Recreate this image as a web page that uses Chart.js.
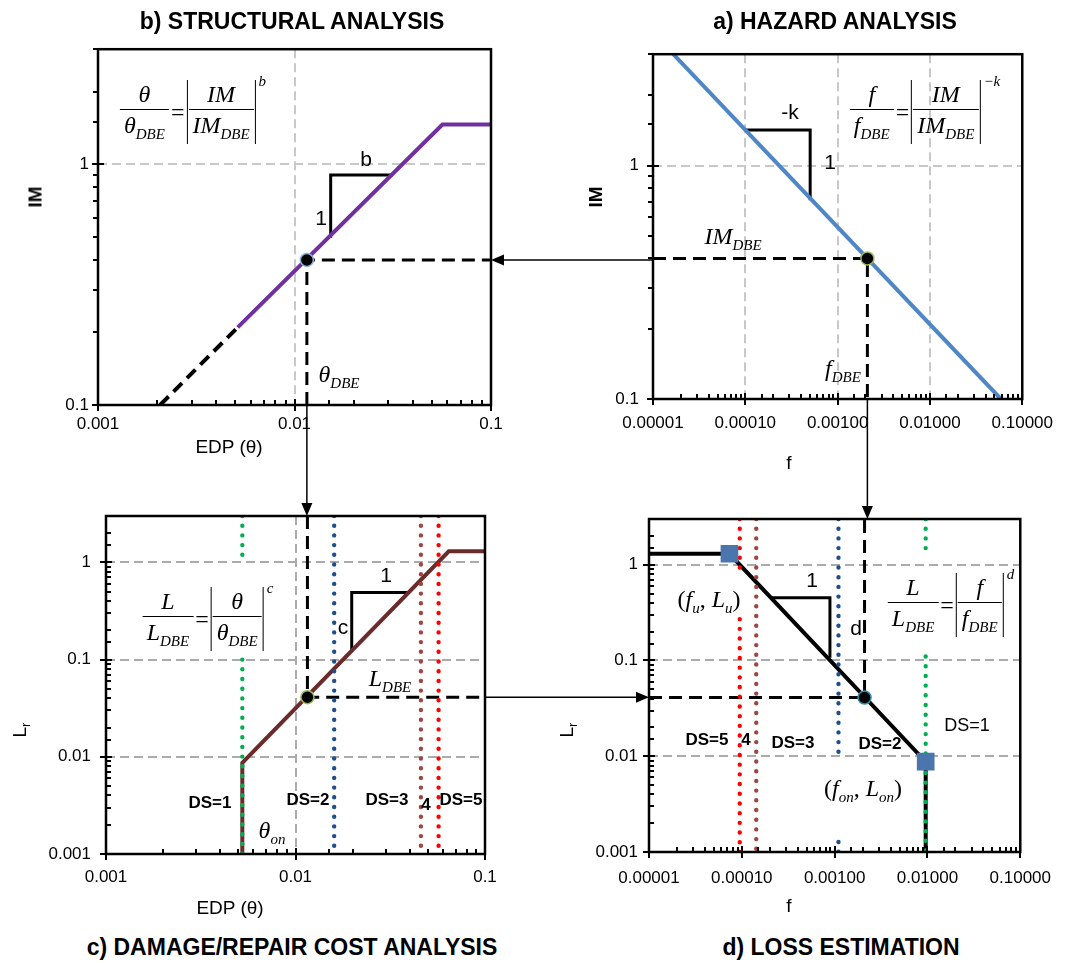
<!DOCTYPE html>
<html>
<head>
<meta charset="utf-8">
<script src="https://cdn.jsdelivr.net/npm/chart.js@4.4.1/dist/chart.umd.min.js"></script>
<style>
    html, body { margin: 0; padding: 0; background: #fff; }
    #fig { position: relative; width: 1067px; height: 963px; overflow: hidden; font-family: "Liberation Sans", Arial, sans-serif; color: #000; }
    #fig canvas { position: absolute; }
    #links { position: absolute; left: 0; top: 0; pointer-events: none; }
    .t { position: absolute; transform: translate(-50%, -50%); white-space: nowrap; line-height: 1; }
    .rot { transform: translate(-50%, -50%) rotate(-90deg); }
    .title { font-weight: bold; font-size: 23px; }
    .ax { font-size: 19px; }
    .ax.b { font-weight: bold; }
    .ax sub { font-size: 13px; vertical-align: -4px; }
    .ds { font-weight: bold; font-size: 17px; }
    .ds.reg { font-weight: normal; font-size: 18px; }
    .tri { font-size: 21px; }
    .m { font-family: "Liberation Serif", "Times New Roman", serif; font-style: italic; font-size: 24px; }
    .m sub { font-size: 15px; vertical-align: -6px; }
    .m .up { font-style: normal; }
    .eq { display: flex; align-items: center; }
    .fr { display: inline-flex; flex-direction: column; align-items: center; }
    .fr .nu { padding: 0 4px 3px; }
    .fr .de { padding: 3px 4px 0; border-top: 1.3px solid #000; }
    .eq .op { font-style: normal; margin: 0 2px; }
    .ab { display: inline-flex; border-left: 1.3px solid #000; border-right: 1.3px solid #000; padding: 2px 1px; }
    .ex { align-self: flex-start; font-size: 15px; margin: -6px 0 0 3px; }
</style>
</head>
<body>
<div id="fig">
    <canvas id="cv-b" width="545" height="440" style="left:0;top:30px"></canvas>
    <canvas id="cv-a" width="522" height="440" style="left:545px;top:30px"></canvas>
    <canvas id="cv-c" width="545" height="410" style="left:0;top:490px"></canvas>
    <canvas id="cv-d" width="522" height="410" style="left:545px;top:490px"></canvas>

    <div class="t title" style="left:292px;top:21px">b) STRUCTURAL ANALYSIS</div>
    <div class="t title" style="left:835px;top:21px">a) HAZARD ANALYSIS</div>
    <div class="t title" style="left:292px;top:947px">c) DAMAGE/REPAIR COST ANALYSIS</div>
    <div class="t title" style="left:841px;top:947px">d) LOSS ESTIMATION</div>

    <div class="t ax b rot" style="left:35px;top:197px">IM</div>
    <div class="t ax b rot" style="left:595px;top:197px">IM</div>
    <div class="t ax" style="left:229px;top:446px">EDP (θ)</div>
    <div class="t ax" style="left:789px;top:462px">f</div>
    <div class="t ax rot" style="left:21px;top:730px">L<sub>r</sub></div>
    <div class="t ax rot" style="left:568px;top:730px">L<sub>r</sub></div>
    <div class="t ax" style="left:230px;top:907px">EDP (θ)</div>
    <div class="t ax" style="left:789px;top:905px">f</div>

    <div id="eq-b" class="t m eq" style="left:193px;top:112px"></div>
    <div id="eq-a" class="t m eq" style="left:925px;top:112px"></div>
    <div id="eq-c" class="t m eq" style="left:208px;top:619px"></div>
    <div id="eq-d" class="t m eq" style="left:951px;top:605px"></div>

    <div class="t m" style="left:733px;top:238px">IM<sub>DBE</sub></div>
    <div class="t m" style="left:843px;top:370px">f<sub>DBE</sub></div>
    <div class="t m" style="left:339px;top:376px">θ<sub>DBE</sub></div>
    <div class="t m" style="left:390px;top:680px">L<sub>DBE</sub></div>
    <div class="t m" style="left:272px;top:832px">θ<sub>on</sub></div>
    <div class="t m" style="left:709px;top:601px"><span class="up">(</span>f<sub>u</sub><span class="up">, </span>L<sub>u</sub><span class="up">)</span></div>
    <div class="t m" style="left:863px;top:790px"><span class="up">(</span>f<sub>on</sub><span class="up">, </span>L<sub>on</sub><span class="up">)</span></div>

    <div class="t tri" style="left:790px;top:111px">-k</div>
    <div class="t tri" style="left:830px;top:161px">1</div>
    <div class="t tri" style="left:366px;top:158px">b</div>
    <div class="t tri" style="left:321px;top:217px">1</div>
    <div class="t tri" style="left:386px;top:574px">1</div>
    <div class="t tri" style="left:343px;top:626px">c</div>
    <div class="t tri" style="left:812px;top:579px">1</div>
    <div class="t tri" style="left:856px;top:627px">d</div>

    <div class="t ds" style="left:210px;top:802px">DS=1</div>
    <div class="t ds" style="left:308px;top:799px">DS=2</div>
    <div class="t ds" style="left:387px;top:799px">DS=3</div>
    <div class="t ds" style="left:426px;top:804px">4</div>
    <div class="t ds" style="left:461px;top:799px">DS=5</div>
    <div class="t ds" style="left:707px;top:739px">DS=5</div>
    <div class="t ds" style="left:746px;top:739px">4</div>
    <div class="t ds" style="left:793px;top:742px">DS=3</div>
    <div class="t ds" style="left:880px;top:743px">DS=2</div>
    <div class="t ds reg" style="left:967px;top:725px">DS=1</div>

    <svg id="links" width="1067" height="963"></svg>
</div>
<script>
(function () {
    "use strict";

    // axis ranges
    const EDP_RANGE = [0.001, 0.1];
    const F_RANGE = [0.00001, 0.1];
    const IM_RANGE = [0.1, 3];
    const L_RANGE = [0.001, 3];

    // labelled decades
    const EDP_TICKS = [0.001, 0.01, 0.1];
    const F_TICKS = [0.00001, 0.0001, 0.001, 0.01, 0.1];
    const IM_TICKS = [0.1, 1];
    const L_TICKS = [0.001, 0.01, 0.1, 1];

    // design-basis earthquake values
    const IM_DBE = 0.4;
    const F_DBE = 0.0021;
    const EDP_DBE = 0.01156;
    const L_DBE = 0.041;

    // a) hazard curve
    const HAZ_F = [0.0000166, 0.0586];
    const HAZ_IM = [3.0, 0.1];
    const HAZ_TRI_F = [0.0001, 0.000504, 0.000504];
    const HAZ_TRI_IM = [1.42, 1.42, 0.71];

    // b) structural response, with extrapolated part
    const RESP_EDP = [0.00514, 0.0566, 0.1];
    const RESP_IM = [0.21, 1.46, 1.46];
    const RESP_EXT_EDP = [0.00207, 0.00514];
    const RESP_EXT_IM = [0.1, 0.21];
    const RESP_TRI_EDP = [0.01528, 0.01528, 0.0316];
    const RESP_TRI_IM = [0.495, 0.902, 0.902];

    // c) repair cost vs EDP
    const COST_EDP = [0.00524, 0.00524, 0.0644, 0.1];
    const COST_L = [0.001, 0.00867, 1.30, 1.30];
    const COST_TRI_EDP = [0.0198, 0.0198, 0.040];
    const COST_TRI_L = [0.121, 0.49, 0.49];

    // d) loss vs frequency, with the two knots
    const LOSS_F = [0.00001, 0.0000736, 0.00957, 0.00957];
    const LOSS_L = [1.30, 1.30, 0.00877, 0.001];
    const KNOT_F = [0.0000736, 0.00957];
    const KNOT_L = [1.30, 0.00877];
    const LOSS_TRI_F = [0.000205, 0.00089, 0.00089];
    const LOSS_TRI_L = [0.453, 0.453, 0.107];

    // damage state limits (DS1 onset, DS2, DS3/4, DS5) and breaks in the dotted lines
    const DS_EDP = [0.00524, 0.016, 0.0459, 0.0569];
    const DS_F = [0.00957, 0.0011, 0.000143, 0.000095];
    const DS_EDP_BREAK = [[1.0, 0.1], null, null, null];
    const DS_F_BREAK = [[1.4, 0.11], [0.01, 0.00127], null, [0.87, 0.27]];
    const DS_COLORS = ["#00b050", "#1f4e8c", "#a0453f", "#ff0000"];

    const GRID_TOP = "#c8c8c8";
    const GRID_BOTTOM = "#ababab";

    Chart.defaults.font.family = '"Liberation Sans", Arial, sans-serif';
    Chart.defaults.font.size = 17;
    Chart.defaults.color = "#000";

    const isDecade = (v) => Math.abs(Math.log10(v) - Math.round(Math.log10(v))) < 1e-6;
    const pts = (xs, ys) => xs.map((x, i) => ({ x, y: ys[i] }));

    const line = (data, color, width, extra) => Object.assign({
        data, showLine: true, borderColor: color, borderWidth: width, pointRadius: 0,
        fill: false, tension: 0, order: 2,
    }, extra || {});

    const guide = (data) => line(data, "#000", 3, { borderDash: [13, 7] });

    const marker = (x, y, ring) => ({
        data: [{ x, y }], showLine: false, pointRadius: 6.5, pointBorderWidth: 1.5,
        pointBackgroundColor: "#000", pointBorderColor: ring, order: 0,
    });

    function dsLines(xs, breaks, yMin, yMax) {
        return xs.map((x, i) => {
            const b = breaks[i];
            const data = b
                ? [{ x, y: yMax }, { x, y: b[0] }, { x, y: null }, { x, y: b[1] }, { x, y: yMin }]
                : [{ x, y: yMax }, { x, y: yMin }];
            return line(data, DS_COLORS[i], 4.4, { borderDash: [0, 9.7], borderCapStyle: "round", order: 1 });
        });
    }

    function axis(range, labels, digits, opt) {
        return {
            type: "logarithmic", min: range[0], max: range[1],
            position: opt.isX ? "bottom" : "left",
            afterFit: (s) => { if (opt.isX) s.height = opt.size; else s.width = opt.size; },
            grid: {
                drawTicks: false, lineWidth: 2,
                color: (c) => (opt.grid && c.tick && isDecade(c.tick.value)) ? opt.grid : "rgba(0,0,0,0)",
            },
            border: { display: false, dash: [9, 5] },
            ticks: {
                autoSkip: false, maxRotation: 0, minRotation: 0, padding: opt.pad, color: "#000",
                callback: (v) => {
                    const hit = labels.find((l) => Math.abs(Math.log10(l) - Math.log10(v)) < 1e-6);
                    if (hit === undefined) return "";
                    return digits ? hit.toFixed(digits) : String(hit);
                },
            },
        };
    }

    // frame round the plot area plus tick marks (minor inside, decades across the axis)
    const frameTicks = {
        id: "frameTicks",
        afterDatasetsDraw(chart, args, opts) {
            const { ctx, chartArea: a, scales: { x, y } } = chart;
            ctx.save();
            ctx.strokeStyle = "#000";
            ctx.lineWidth = 2;
            ctx.beginPath();
            x.ticks.forEach((t) => {
                const px = Math.round(x.getPixelForValue(t.value));
                if (isDecade(t.value)) { ctx.moveTo(px, a.bottom - 6); ctx.lineTo(px, a.bottom + 6); }
                else { ctx.moveTo(px, a.bottom); ctx.lineTo(px, a.bottom - 5); }
            });
            y.ticks.forEach((t) => {
                const py = Math.round(y.getPixelForValue(t.value));
                if (isDecade(t.value)) { ctx.moveTo(a.left - 6, py); ctx.lineTo(a.left + 6, py); }
                else { ctx.moveTo(a.left, py); ctx.lineTo(a.left + (opts.yIn ? 5 : -5), py); }
            });
            ctx.stroke();
            ctx.lineWidth = 2.5;
            ctx.strokeRect(a.left, a.top, a.right - a.left, a.bottom - a.top);
            ctx.restore();
        },
    };

    function panel(id, datasets, p) {
        return new Chart(document.getElementById(id), {
            type: "scatter",
            data: { datasets },
            options: {
                responsive: false, animation: false, events: [],
                layout: { padding: { top: p.top, right: p.right, left: 0, bottom: 0 } },
                plugins: { legend: { display: false }, tooltip: { enabled: false }, frameTicks: { yIn: p.yIn } },
                scales: { x: p.x, y: p.y },
            },
            plugins: [frameTicks],
        });
    }

    // b) structural analysis
    const chartB = panel("cv-b", [
        marker(EDP_DBE, IM_DBE, "#8db0dc"),
        line(pts(RESP_EDP, RESP_IM), "#7030a0", 4),
        line(pts(RESP_EXT_EDP, RESP_EXT_IM), "#000", 4, { borderDash: [12, 7] }),
        line(pts(RESP_TRI_EDP, RESP_TRI_IM), "#000", 3),
        guide([{ x: EDP_DBE, y: IM_RANGE[0] }, { x: EDP_DBE, y: IM_DBE }, { x: EDP_RANGE[1], y: IM_DBE }]),
    ], {
        top: 16, right: 54, yIn: false,
        x: axis(EDP_RANGE, EDP_TICKS, 0, { isX: true, size: 65, pad: 9, grid: GRID_TOP }),
        y: axis(IM_RANGE, IM_TICKS, 0, { isX: false, size: 98, pad: 9, grid: GRID_TOP }),
    });

    // a) hazard analysis
    const chartA = panel("cv-a", [
        marker(F_DBE, IM_DBE, "#9bbb59"),
        line(pts(HAZ_F, HAZ_IM), "#4f86c6", 4),
        line(pts(HAZ_TRI_F, HAZ_TRI_IM), "#000", 3),
        guide([{ x: F_RANGE[0], y: IM_DBE }, { x: F_DBE, y: IM_DBE }, { x: F_DBE, y: IM_RANGE[0] }]),
    ], {
        top: 18, right: 42, yIn: false,
        x: axis(F_RANGE, F_TICKS, 5, { isX: true, size: 71, pad: 14, grid: GRID_TOP }),
        y: axis(IM_RANGE, IM_TICKS, 0, { isX: false, size: 108, pad: 14, grid: GRID_TOP }),
    });

    // c) damage / repair cost analysis
    const chartC = panel("cv-c", [
        marker(EDP_DBE, L_DBE, "#9bbb59"),
        ...dsLines(DS_EDP, DS_EDP_BREAK, L_RANGE[0], L_RANGE[1]),
        line(pts(COST_EDP, COST_L), "#6b2b2b", 4),
        line(pts(COST_TRI_EDP, COST_TRI_L), "#000", 3),
        guide([{ x: EDP_DBE, y: L_RANGE[1] }, { x: EDP_DBE, y: L_DBE }, { x: EDP_RANGE[1], y: L_DBE }]),
    ], {
        top: 26, right: 60, yIn: true,
        x: axis(EDP_RANGE, EDP_TICKS, 0, { isX: true, size: 46, pad: 13, grid: GRID_BOTTOM }),
        y: axis(L_RANGE, L_TICKS, 0, { isX: false, size: 106, pad: 15, grid: GRID_BOTTOM }),
    });

    // d) loss estimation
    const chartD = panel("cv-d", [
        marker(F_DBE, L_DBE, "#2f8fa8"),
        {
            data: pts(KNOT_F, KNOT_L), showLine: false, pointStyle: "rect", pointRadius: 12.5,
            pointBackgroundColor: "#4a75ad", pointBorderWidth: 0, order: 0,
        },
        ...dsLines(DS_F, DS_F_BREAK, L_RANGE[0], L_RANGE[1]),
        line(pts(LOSS_F, LOSS_L), "#000", 4),
        line(pts(LOSS_TRI_F, LOSS_TRI_L), "#000", 3),
        guide([{ x: F_RANGE[0], y: L_DBE }, { x: F_DBE, y: L_DBE }, { x: F_DBE, y: L_RANGE[1] }]),
    ], {
        top: 29, right: 39, yIn: true,
        x: axis(F_RANGE, F_TICKS, 5, { isX: true, size: 48, pad: 16, grid: null }),
        y: axis(L_RANGE, L_TICKS, 0, { isX: false, size: 104, pad: 11, grid: GRID_BOTTOM }),
    });

    // formulas
    const frac = (n, d) => `<span class="fr"><span class="nu">${n}</span><span class="de">${d}</span></span>`;
    const powerLaw = (ln, ld, rn, rd, ex) =>
        `${frac(ln, ld)}<span class="op">=</span><span class="ab">${frac(rn, rd)}</span><span class="ex">${ex}</span>`;
    document.getElementById("eq-b").innerHTML = powerLaw("θ", "θ<sub>DBE</sub>", "IM", "IM<sub>DBE</sub>", "b");
    document.getElementById("eq-a").innerHTML = powerLaw("f", "f<sub>DBE</sub>", "IM", "IM<sub>DBE</sub>", "−k");
    document.getElementById("eq-c").innerHTML = powerLaw("L", "L<sub>DBE</sub>", "θ", "θ<sub>DBE</sub>", "c");
    document.getElementById("eq-d").innerHTML = powerLaw("L", "L<sub>DBE</sub>", "f", "f<sub>DBE</sub>", "d");

    // arrows linking the panels, placed from each chart's own scales
    const svg = document.getElementById("links");
    const origin = (chart) => ({ x: chart.canvas.offsetLeft, y: chart.canvas.offsetTop });
    function arrow(x1, y1, x2, y2) {
        const ang = Math.atan2(y2 - y1, x2 - x1), len = 13, hw = 5.5;
        const bx = x2 - len * Math.cos(ang), by = y2 - len * Math.sin(ang);
        const nx = -Math.sin(ang) * hw, ny = Math.cos(ang) * hw;
        svg.insertAdjacentHTML("beforeend",
            `<line x1="${x1}" y1="${y1}" x2="${bx}" y2="${by}" stroke="#000" stroke-width="1.5"/>` +
            `<polygon points="${x2},${y2} ${bx + nx},${by + ny} ${bx - nx},${by - ny}" fill="#000"/>`);
    }
    const oA = origin(chartA), oB = origin(chartB), oC = origin(chartC), oD = origin(chartD);

    const yIm = oB.y + chartB.scales.y.getPixelForValue(IM_DBE);
    arrow(oA.x + chartA.chartArea.left, yIm, oB.x + chartB.chartArea.right, yIm);

    const xEdp = oB.x + chartB.scales.x.getPixelForValue(EDP_DBE);
    arrow(xEdp, oB.y + chartB.chartArea.bottom, xEdp, oC.y + chartC.chartArea.top);

    const xF = oA.x + chartA.scales.x.getPixelForValue(F_DBE);
    arrow(xF, oA.y + chartA.chartArea.bottom, xF, oD.y + chartD.chartArea.top);

    const yL = oC.y + chartC.scales.y.getPixelForValue(L_DBE);
    arrow(oC.x + chartC.chartArea.right, yL, oD.x + chartD.chartArea.left, yL);
})();
</script>
</body>
</html>
